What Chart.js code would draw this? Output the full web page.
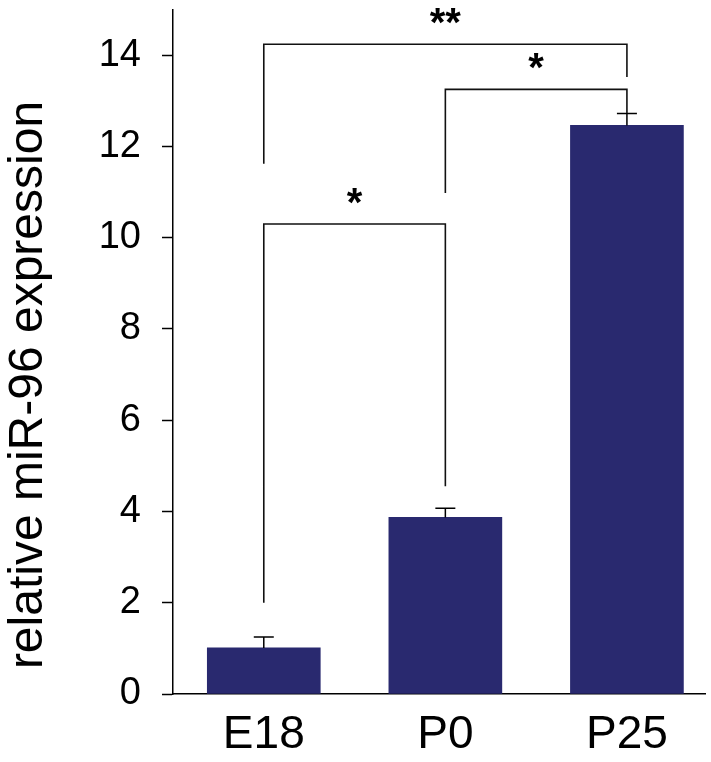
<!DOCTYPE html>
<html><head><meta charset="utf-8">
<script src="https://cdn.jsdelivr.net/npm/chart.js@4"></script>
<style>html,body{margin:0;padding:0;background:#fff}#wrap{width:711px;height:762px}</style>
</head><body><div id="wrap"><canvas id="c" width="711" height="762"></canvas></div>
<script>
const categories = ['E18', 'P0', 'P25'];
const meanValues = [1.01, 3.87, 12.46];
const errorValues = [0.24, 0.20, 0.26];
const yTickValues = [0, 2, 4, 6, 8, 10, 12, 14];
const bracketFrom = [0, 1, 0];
const bracketTo = [1, 2, 2];
const bracketTop = [10.30, 13.25, 14.24];
const bracketLeftEnd = [2.0, 10.98, 11.62];
const bracketRightEnd = [4.55, 12.73, 13.52];
const bracketLabels = ['*', '*', '**'];
const yTitle = 'relative miR-96 expression';

const FONT = "'Liberation Sans', Arial, Helvetica, sans-serif";

const overlay = {
  id: 'overlay',
  afterDatasetsDraw(chart) {
    const ctx = chart.ctx, x = chart.scales.x, y = chart.scales.y;
    ctx.save();
    ctx.strokeStyle = '#000';
    ctx.lineWidth = 1.5;
    meanValues.forEach((v, i) => {
      const px = x.getPixelForValue(i);
      const y0 = y.getPixelForValue(v), y1 = y.getPixelForValue(v + errorValues[i]);
      ctx.beginPath();
      ctx.moveTo(px, y0); ctx.lineTo(px, y1);
      ctx.moveTo(px - 10, y1); ctx.lineTo(px + 10, y1);
      ctx.stroke();
    });
    ctx.lineWidth = 1.6;
    ctx.strokeStyle = '#111';
    bracketFrom.forEach((a, k) => {
      const xa = x.getPixelForValue(a), xb = x.getPixelForValue(bracketTo[k]);
      const yt = y.getPixelForValue(bracketTop[k]);
      ctx.beginPath();
      ctx.moveTo(xa, y.getPixelForValue(bracketLeftEnd[k]));
      ctx.lineTo(xa, yt);
      ctx.lineTo(xb, yt);
      ctx.lineTo(xb, y.getPixelForValue(bracketRightEnd[k]));
      ctx.stroke();
      ctx.fillStyle = '#000';
      ctx.font = 'bold 40px ' + FONT;
      ctx.textAlign = 'center';
      ctx.textBaseline = 'alphabetic';
      ctx.fillText(bracketLabels[k], (xa + xb) / 2, yt - 8);
    });
    ctx.restore();
    ctx.save();
    ctx.translate(41.7, 385);
    ctx.rotate(-Math.PI / 2);
    ctx.fillStyle = '#000';
    ctx.font = '48px ' + FONT;
    ctx.textAlign = 'center';
    ctx.textBaseline = 'alphabetic';
    ctx.fillText(yTitle, 0, 0);
    ctx.restore();
  }
};

new Chart(document.getElementById('c'), {
  type: 'bar',
  data: {
    datasets: [{
      data: meanValues.map((v, i) => ({ x: i, y: v })),
      backgroundColor: '#29296f',
      borderWidth: 0,
      barThickness: 113
    }]
  },
  options: {
    responsive: false,
    animation: false,
    layout: { padding: { top: 9.5, right: 6, bottom: 0, left: 0 } },
    plugins: { legend: { display: false }, tooltip: { enabled: false } },
    scales: {
      x: {
        type: 'linear', min: -0.5, max: 2.43, offset: false,
        afterBuildTicks: s => { s.ticks = categories.map((c, i) => ({ value: i })); },
        afterFit: s => { s.height = 68; s.paddingLeft = 0; s.paddingRight = 0; },
        grid: { display: false },
        border: { display: true, color: '#000', width: 1.5 },
        ticks: {
          callback: v => categories[v],
          font: { family: FONT, size: 46 }, color: '#000', padding: 6,
          maxRotation: 0, autoSkip: false
        }
      },
      y: {
        min: 0, max: 15,
        afterBuildTicks: s => { s.ticks = yTickValues.map(v => ({ value: v })); },
        afterFit: s => { s.width = 173; s.paddingTop = 0; s.paddingBottom = 0; },
        grid: { display: true, drawOnChartArea: false, drawTicks: true, tickLength: 11, tickColor: '#000', tickWidth: 1.5 },
        border: { display: true, color: '#000', width: 1.5 },
        ticks: { font: { family: FONT, size: 38 }, color: '#000', padding: 21 }
      }
    }
  },
  plugins: [overlay]
});
</script>
</body></html>
